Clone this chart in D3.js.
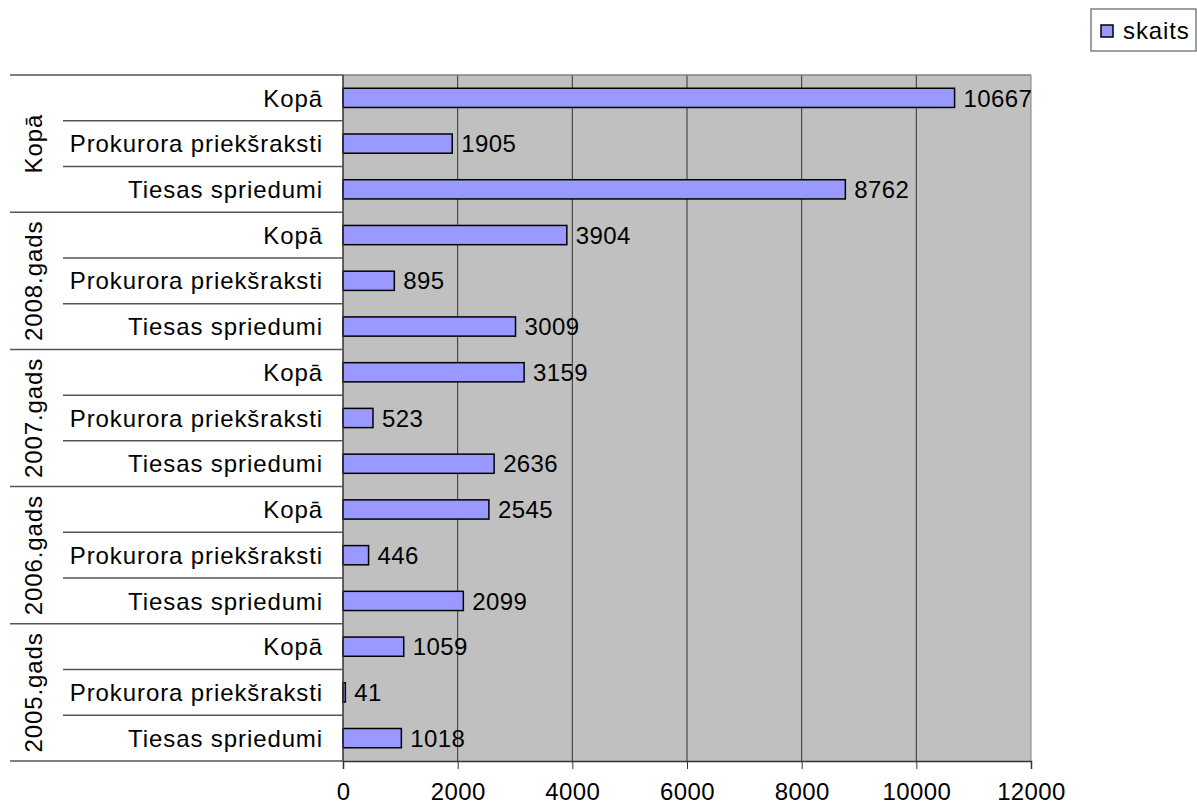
<!DOCTYPE html>
<html>
<head>
<meta charset="utf-8">
<style>
  body {margin: 0; background: #fff; font-family: "Liberation Sans", Arial, sans-serif;}
</style>
<script src="https://d3js.org/d3.v7.min.js"></script>
</head>
<body>
<div id="chart"></div>
<script>

  // data, top to bottom as in the picture
  const groups = ['Kopā', '2008.gads', '2007.gads', '2006.gads', '2005.gads']
  const categories = ['Kopā', 'Prokurora priekšraksti', 'Tiesas spriedumi']
  const valuesKopa = [10667, 1905, 8762]
  const values2008 = [3904, 895, 3009]
  const values2007 = [3159, 523, 2636]
  const values2006 = [2545, 446, 2099]
  const values2005 = [1059, 41, 1018]
  const xTicks = [0, 2000, 4000, 6000, 8000, 10000, 12000]
  const seriesName = 'skaits'

  const groupValues = [valuesKopa, values2008, values2007, values2006, values2005]

  const rows = []
  groups.forEach((g, gi) => {
    categories.forEach((c, ci) => {
      rows.push({key: g + '|' + c, group: g, cat: c, value: groupValues[gi][ci]})
    })
  })

  const width = 1197
  const height = 807
  const margin = {top: 75, right: 166, bottom: 46, left: 343}
  const fontSize = '24px'
  const spacing = '0.9px'

  const svg = d3.select('#chart').append('svg')
    .attr('width', width)
    .attr('height', height)

  const x = d3.scaleLinear()
    .domain([0, 12000])
    .range([margin.left, width - margin.right])

  const y = d3.scaleBand()
    .domain(rows.map(d => d.key))
    .range([margin.top, height - margin.bottom])
    .paddingInner(0.58)
    .paddingOuter(0.29)

  const rowStep = y.step()
  const plotTop = margin.top
  const plotBottom = height - margin.bottom

  // plot background
  svg.append('rect')
    .attr('x', x(0))
    .attr('y', plotTop)
    .attr('width', x(12000) - x(0))
    .attr('height', plotBottom - plotTop)
    .style('fill', '#c0c0c0')

  // vertical grid lines
  svg.append('g')
    .selectAll('line')
    .data(xTicks.slice(1))
    .enter().append('line')
    .attr('x1', d => x(d)).attr('x2', d => x(d))
    .attr('y1', plotTop).attr('y2', plotBottom)
    .style('stroke', d => d === 12000 ? '#808080' : '#333')
    .style('stroke-width', 1)

  svg.append('line')
    .attr('x1', x(0)).attr('x2', x(12000))
    .attr('y1', plotTop).attr('y2', plotTop)
    .style('stroke', '#808080')
    .style('stroke-width', 1.5)

  // bars
  svg.append('g')
    .selectAll('rect')
    .data(rows)
    .enter().append('rect')
    .attr('x', x(0))
    .attr('y', d => y(d.key))
    .attr('width', d => x(d.value) - x(0))
    .attr('height', y.bandwidth())
    .style('fill', '#9999ff')
    .style('stroke', '#000')
    .style('stroke-width', 1.5)

  // value labels
  svg.append('g')
    .selectAll('text')
    .data(rows)
    .enter().append('text')
    .attr('x', d => x(d.value) + 9)
    .attr('y', d => y(d.key) + y.bandwidth() / 2)
    .attr('dy', '0.36em')
    .style('font-size', fontSize)
    .style('letter-spacing', '0.4px')
    .style('fill', '#000')
    .text(d => d.value)

  // x axis
  const xAxis = svg.append('g')
    .attr('transform', 'translate(0,' + plotBottom + ')')
    .call(d3.axisBottom(x).tickValues(xTicks).tickSize(8).tickPadding(14).tickFormat(d3.format('d')))
  xAxis.select('.domain').style('stroke', '#333').style('stroke-width', 1.5)
  xAxis.selectAll('.tick line').style('stroke', '#333')
  xAxis.selectAll('text')
    .style('font-family', '"Liberation Sans", Arial, sans-serif')
    .style('font-size', fontSize)
    .style('letter-spacing', '0.4px')
    .style('fill', '#000')

  // y axis line
  svg.append('line')
    .attr('x1', x(0)).attr('x2', x(0))
    .attr('y1', plotTop).attr('y2', plotBottom)
    .style('stroke', '#333')
    .style('stroke-width', 1.5)

  // row separators on the category axis
  svg.append('g')
    .selectAll('line')
    .data(d3.range(rows.length + 1))
    .enter().append('line')
    .attr('x1', i => i % 3 === 0 ? 10 : 63)
    .attr('x2', x(0))
    .attr('y1', i => plotTop + i * rowStep)
    .attr('y2', i => plotTop + i * rowStep)
    .style('stroke', '#555')
    .style('stroke-width', 1.5)

  // category labels
  svg.append('g')
    .selectAll('text')
    .data(rows)
    .enter().append('text')
    .attr('x', x(0) - 20)
    .attr('y', d => y(d.key) + y.bandwidth() / 2)
    .attr('dy', '0.36em')
    .attr('text-anchor', 'end')
    .style('font-size', fontSize)
    .style('letter-spacing', spacing)
    .style('fill', '#000')
    .text(d => d.cat)

  // group labels, rotated
  svg.append('g')
    .selectAll('text')
    .data(groups)
    .enter().append('text')
    .attr('transform', (g, i) => 'translate(42,' + (plotTop + (i * 3 + 1.5) * rowStep) + ') rotate(-90)')
    .attr('text-anchor', 'middle')
    .style('font-size', fontSize)
    .style('letter-spacing', spacing)
    .style('fill', '#000')
    .text(d => d)

  // legend
  const legend = svg.append('g')
  legend.append('rect')
    .attr('x', 1091).attr('y', 9)
    .attr('width', 105).attr('height', 42)
    .style('fill', '#fff')
    .style('stroke', '#808080')
    .style('stroke-width', 1.5)
  legend.append('rect')
    .attr('x', 1101).attr('y', 25)
    .attr('width', 12).attr('height', 12)
    .style('fill', '#9999ff')
    .style('stroke', '#000')
    .style('stroke-width', 1.5)
  legend.append('text')
    .attr('x', 1123).attr('y', 30)
    .attr('dy', '0.36em')
    .style('font-size', fontSize)
    .style('letter-spacing', spacing)
    .text(seriesName)

</script>
</body>
</html>
